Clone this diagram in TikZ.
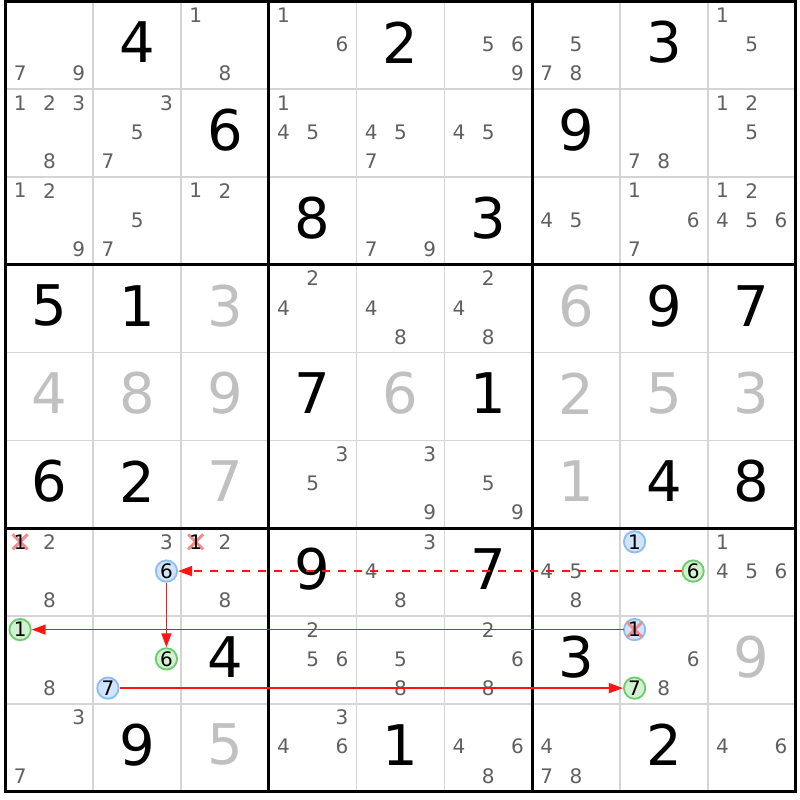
\documentclass[tikz,border=0pt]{standalone}
\usepackage{fontspec}
\setmainfont{DejaVu Sans}
\usetikzlibrary{arrows.meta}
\definecolor{candc}{RGB}{96,96,96}
\definecolor{solvedc}{RGB}{192,192,192}
\definecolor{gridc}{RGB}{212,212,212}
\definecolor{bluefill}{RGB}{208,228,252}
\definecolor{blueline}{RGB}{140,190,240}
\definecolor{greenfill}{RGB}{208,242,208}
\definecolor{greenline}{RGB}{110,204,110}
\definecolor{xcol}{RGB}{240,140,140}
\definecolor{chainred}{RGB}{255,20,20}
\tikzset{
 cand/.style={inner sep=0pt, text=candc, font=\fontsize{15}{15}\selectfont},
 bigdig/.style={inner sep=0pt, text=black, font=\fontsize{42}{42}\selectfont},
 solved/.style={text=solvedc},
 hlblue/.style={circle, draw=blueline, fill=bluefill, line width=1.4pt, minimum size=16pt, text=black},
 hlgreen/.style={circle, draw=greenline, fill=greenfill, line width=1.4pt, minimum size=16pt, text=black},
 bluering/.style={draw=blueline, fill=bluefill, line width=1.4pt},
 xline/.style={draw=xcol, line width=2.2pt},
 xcand/.style={circle, minimum size=16pt, text=black},
 thingrid/.style={draw=gridc, line width=1.2pt},
 thickgrid/.style={draw=black, line width=2.3pt},
 chain/.style={draw=chainred, line width=1.15pt, -{Triangle[length=10.5pt,width=7.5pt]}},
 weak/.style={dash pattern=on 6pt off 6pt},
}
\newcommand\setpos[3]{%
  \pgfmathsetmacro\cx{5.5+#2*87.78+(mod(#3-1,3)+0.5)*29.26}%
  \pgfmathsetmacro\cy{1.5+#1*87.78+(floor((#3-1)/3)+0.5)*29.26-1}}
\newcommand\cnode[4][]{%
  \setpos{#2}{#3}{#4}%
  \node[cand,#1] (n#2#3d#4) at (\cx,\cy) {#4};}
\newcommand\cands[3]{\foreach \d in {#3}{\cnode{#1}{#2}{\d}}}
\newcommand\xnode[4][0]{%
  \setpos{#2}{#3}{#4}%
  \ifnum#1=1 \draw[bluering] (\cx,\cy) circle (8pt);\fi
  \draw[xline] (\cx-7.5,\cy-7.5) -- (\cx+7.5,\cy+7.5) (\cx-7.5,\cy+7.5) -- (\cx+7.5,\cy-7.5);
  \node[cand,xcand] (n#2#3d#4) at (\cx,\cy) {#4};}
\newcommand\bigd[4][]{%
  \pgfmathsetmacro\cx{5.5+(#3+0.5)*87.78}%
  \pgfmathsetmacro\cy{1.5+(#2+0.5)*87.78-3}%
  \node[bigdig,#1] (g#2#3) at (\cx,\cy) {#4};}
\begin{document}
\begin{tikzpicture}[x=0.75pt,y=-0.75pt]
\useasboundingbox (0,0) rectangle (800,800);
\fill[white] (0,0) rectangle (800,800);
% grid
\foreach \i in {1,2,4,5,7,8}{
  \draw[thingrid] (5.5+\i*87.78,1.5) -- (5.5+\i*87.78,791.5);
  \draw[thingrid] (5.5,1.5+\i*87.78) -- (795.5,1.5+\i*87.78);
}
\foreach \i in {3,6}{
  \draw[thickgrid] (5.5+\i*87.78,1.5) -- (5.5+\i*87.78,791.5);
  \draw[thickgrid] (5.5,1.5+\i*87.78) -- (795.5,1.5+\i*87.78);
}
\draw[thickgrid] (5.5,1.5) rectangle (795.5,791.5);
% big digits
\bigd{0}{1}{4}\bigd{0}{4}{2}\bigd{0}{7}{3}
\bigd{1}{2}{6}\bigd{1}{6}{9}
\bigd{2}{3}{8}\bigd{2}{5}{3}
\bigd{3}{0}{5}\bigd{3}{1}{1}\bigd[solved]{3}{2}{3}\bigd[solved]{3}{6}{6}\bigd{3}{7}{9}\bigd{3}{8}{7}
\bigd[solved]{4}{0}{4}\bigd[solved]{4}{1}{8}\bigd[solved]{4}{2}{9}\bigd{4}{3}{7}\bigd[solved]{4}{4}{6}\bigd{4}{5}{1}\bigd[solved]{4}{6}{2}\bigd[solved]{4}{7}{5}\bigd[solved]{4}{8}{3}
\bigd{5}{0}{6}\bigd{5}{1}{2}\bigd[solved]{5}{2}{7}\bigd[solved]{5}{6}{1}\bigd{5}{7}{4}\bigd{5}{8}{8}
\bigd{6}{3}{9}\bigd{6}{5}{7}
\bigd{7}{2}{4}\bigd{7}{6}{3}\bigd[solved]{7}{8}{9}
\bigd{8}{1}{9}\bigd[solved]{8}{2}{5}\bigd{8}{4}{1}\bigd{8}{7}{2}
% candidates
\cands{0}{0}{7,9}
\cands{0}{2}{1,8}
\cands{0}{3}{1,6}
\cands{0}{5}{5,6,9}
\cands{0}{6}{5,7,8}
\cands{0}{8}{1,5}
\cands{1}{0}{1,2,3,8}
\cands{1}{1}{3,5,7}
\cands{1}{3}{1,4,5}
\cands{1}{4}{4,5,7}
\cands{1}{5}{4,5}
\cands{1}{7}{7,8}
\cands{1}{8}{1,2,5}
\cands{2}{0}{1,2,9}
\cands{2}{1}{5,7}
\cands{2}{2}{1,2}
\cands{2}{4}{7,9}
\cands{2}{6}{4,5}
\cands{2}{7}{1,6,7}
\cands{2}{8}{1,2,4,5,6}
\cands{3}{3}{2,4}
\cands{3}{4}{4,8}
\cands{3}{5}{2,4,8}
\cands{5}{3}{3,5}
\cands{5}{4}{3,9}
\cands{5}{5}{5,9}
\xnode{6}{0}{1}\cands{6}{0}{2,8}
\cands{6}{1}{3}\cnode[hlblue]{6}{1}{6}
\xnode{6}{2}{1}\cands{6}{2}{2,8}
\cands{6}{4}{3,4,8}
\cands{6}{6}{4,5,8}
\cnode[hlblue]{6}{7}{1}\cnode[hlgreen]{6}{7}{6}
\cands{6}{8}{1,4,5,6}
\cnode[hlgreen]{7}{0}{1}\cands{7}{0}{8}
\cnode[hlgreen]{7}{1}{6}\cnode[hlblue]{7}{1}{7}
\cands{7}{3}{2,5,6}
\cands{7}{4}{5,8}
\cands{7}{5}{2,6,8}
\xnode[1]{7}{7}{1}\cands{7}{7}{6,8}\cnode[hlgreen]{7}{7}{7}
\cands{8}{0}{3,7}
\cands{8}{3}{3,4,6}
\cands{8}{5}{4,6,8}
\cands{8}{6}{4,7,8}
\cands{8}{8}{4,6}
% chain
\draw[chain, weak] (n67d6) -- (n61d6);
\draw[chain] (n61d6) -- (n71d6);
\draw[chain] (n77d1) -- (n70d1);
\draw[chain] (n71d7) -- (n77d7);
\end{tikzpicture}
\end{document}
